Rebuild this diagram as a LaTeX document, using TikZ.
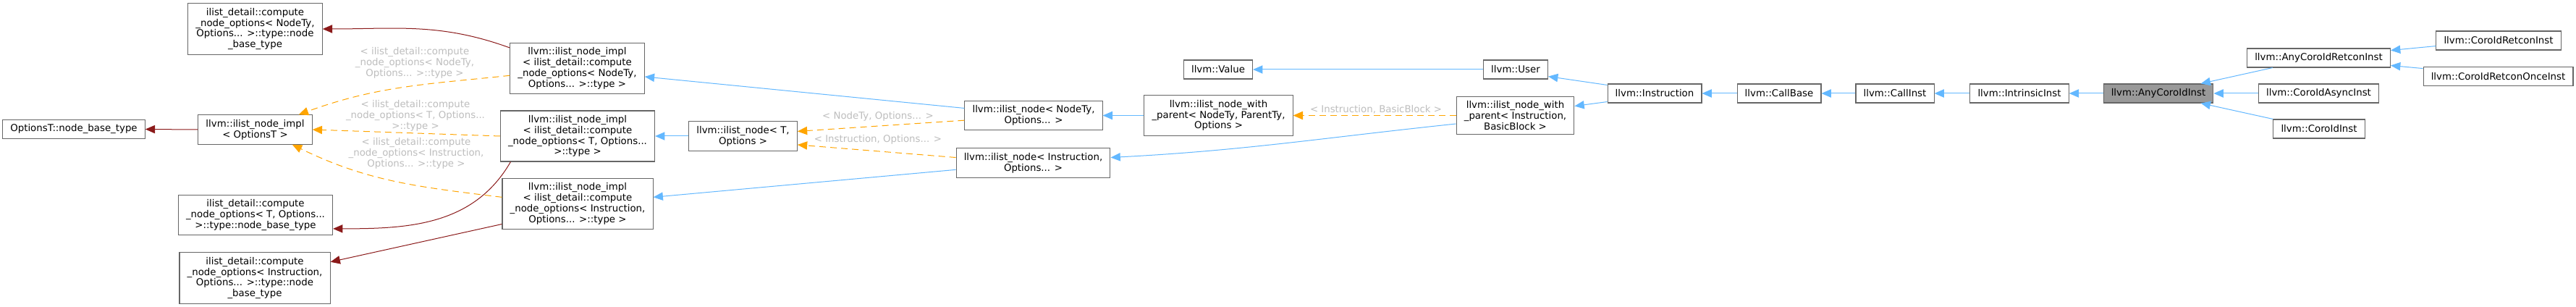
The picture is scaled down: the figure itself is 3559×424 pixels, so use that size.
\documentclass[tikz,border=0pt]{standalone}
\usepackage{fontspec}
\setmainfont{DejaVu Sans}
\usepackage{xcolor}
\definecolor{boxgray}{RGB}{102,102,102}
\definecolor{curgray}{RGB}{153,153,153}
\definecolor{pubblue}{RGB}{99,184,255}
\definecolor{tplorange}{RGB}{255,165,0}
\definecolor{usedred}{RGB}{139,26,26}
\definecolor{lblgray}{RGB}{190,190,190}
\usepackage{tikz}
\usetikzlibrary{arrows.meta}

\begin{document}
\begin{tikzpicture}[
    x=0.75pt, y=-0.75pt,
    cls/.style={rectangle, draw=boxgray, fill=white, line width=0.8pt,
                inner xsep=8pt, inner ysep=4.75pt, minimum height=19.5pt,
                align=center, font=\fontsize{10}{11.1}\selectfont},
    curcls/.style={cls, fill=curgray},
    elbl/.style={text=lblgray, align=center, inner sep=0pt,
                 font=\fontsize{10}{11.1}\selectfont},
    pub/.style={-{Triangle[length=10pt,width=8.5pt]}, pubblue, line width=0.75pt},
    tmpl/.style={-{Triangle[length=10pt,width=8.5pt]}, tplorange, line width=0.75pt,
                 dash pattern=on 6.75pt off 4.5pt},
    used/.style={-{Triangle[length=10pt,width=8.5pt]}, usedred, line width=0.75pt},
  ]
    \path[use as bounding box, fill=white] (0,0) rectangle (3559,424);

    \node[cls] (obt)        at (102,178.5)  {OptionsT::node\_base\_type};
    \node[cls] (implopt)    at (352.5,179)  {llvm::ilist\_node\_impl\\< OptionsT >};
    \node[cls] (cnonodety)  at (352.5,40)   {ilist\_detail::compute\\\_node\_options< NodeTy,\\Options... >::type::node\\\_base\_type};
    \node[cls] (cnot)       at (353,297)    {ilist\_detail::compute\\\_node\_options< T, Options...\\>::type::node\_base\_type};
    \node[cls] (cnoinst)    at (352,384)    {ilist\_detail::compute\\\_node\_options< Instruction,\\Options... >::type::node\\\_base\_type};
    \node[cls] (implnodety) at (797.5,94.5) {llvm::ilist\_node\_impl\\< ilist\_detail::compute\\\_node\_options< NodeTy,\\Options... >::type >};
    \node[cls] (implt)      at (798,188)    {llvm::ilist\_node\_impl\\< ilist\_detail::compute\\\_node\_options< T, Options...\\>::type >};
    \node[cls] (implinst)   at (798,281.5)  {llvm::ilist\_node\_impl\\< ilist\_detail::compute\\\_node\_options< Instruction,\\Options... >::type >};
    \node[cls] (nodet)      at (1026.5,188) {llvm::ilist\_node< T,\\Options >};
    \node[cls] (nodenodety) at (1428,159.5) {llvm::ilist\_node< NodeTy,\\Options... >};
    \node[cls] (nodeinst)   at (1427.5,225) {llvm::ilist\_node< Instruction,\\Options... >};
    \node[cls] (value)      at (1683,96)    {llvm::Value};
    \node[cls] (inwpnodety) at (1683.5,159.5) {llvm::ilist\_node\_with\\\_parent< NodeTy, ParentTy,\\Options >};
    \node[cls] (user)       at (2094,96)    {llvm::User};
    \node[cls] (inwpinst)   at (2093.5,159.5) {llvm::ilist\_node\_with\\\_parent< Instruction,\\BasicBlock >};
    \node[cls] (instr)      at (2286,129)   {llvm::Instruction};
    \node[cls] (callbase)   at (2458,129)   {llvm::CallBase};
    \node[cls] (callinst)   at (2618,129)   {llvm::CallInst};
    \node[cls] (intrinsic)  at (2790,129)   {llvm::IntrinsicInst};
    \node[curcls] (anycoroid) at (2982,129) {llvm::AnyCoroIdInst};
    \node[cls] (anyretcon)  at (3203.5,80)  {llvm::AnyCoroIdRetconInst};
    \node[cls] (asyncinst)  at (3203.5,129) {llvm::CoroIdAsyncInst};
    \node[cls] (coroidinst) at (3204,178)   {llvm::CoroIdInst};
    \node[cls] (retcon)     at (3452,56)    {llvm::CoroIdRetconInst};
    \node[cls] (retcononce) at (3451.5,105.5) {llvm::CoroIdRetconOnceInst};

    \node[elbl] (lblnodety) at (573,87)   {< ilist\_detail::compute\\\_node\_options< NodeTy,\\Options... >::type >};
    \node[elbl] (lblt)      at (574,160)  {< ilist\_detail::compute\\\_node\_options< T, Options...\\>::type >};
    \node[elbl] (lblinst)   at (575,212)  {< ilist\_detail::compute\\\_node\_options< Instruction,\\Options... >::type >};
    \node[elbl] (lblnto)    at (1213,161) {< NodeTy, Options... >};
    \node[elbl] (lblito)    at (1213,193) {< Instruction, Options... >};
    \node[elbl] (lblibb)    at (1901,151) {< Instruction, BasicBlock >};

    \draw[used] (implopt.west) -- (obt.east);
    \draw[used] (implnodety.163) to[out=160,in=0] (cnonodety.east);
    \draw[used] (implt.201) to[out=240,in=0] (cnot.-10);
    \draw[used] (implinst.195) -- (cnoinst.12);

    \draw[tmpl] (implnodety.186) to[out=186,in=20] (implopt.19);
    \draw[tmpl] (implt.west) -- (implopt.east);
    \draw[tmpl] (implinst.175) to[out=173,in=-26] (implopt.-22);

    \draw[pub] (nodenodety.174) -- (implnodety.-7);
    \draw[pub] (nodet.west) -- (implt.east);
    \draw[pub] (nodeinst.185) -- (implinst.5);
    \draw[tmpl] (nodenodety.184) -- (nodet.5);
    \draw[tmpl] (nodeinst.176) -- (nodet.-9);

    \draw[pub] (inwpnodety.west) -- (nodenodety.east);
    \draw[tmpl] (inwpinst.west) -- (inwpnodety.east);
    \draw[pub] (inwpinst.188) to[out=186,in=3] (nodeinst.4);

    \draw[pub] (user.west) -- (value.east);
    \draw[pub] (instr.170) -- (user.-12);
    \draw[pub] (instr.190) -- (inwpinst.9);
    \draw[pub] (callbase.west) -- (instr.east);
    \draw[pub] (callinst.west) -- (callbase.east);
    \draw[pub] (intrinsic.west) -- (callinst.east);
    \draw[pub] (anycoroid.west) -- (intrinsic.east);
    \draw[pub] (anyretcon.192) -- (anycoroid.13);
    \draw[pub] (asyncinst.west) -- (anycoroid.east);
    \draw[pub] (coroidinst.168) -- (anycoroid.-13);
    \draw[pub] (retcon.185) -- (anyretcon.6);
    \draw[pub] (retcononce.174) -- (anyretcon.-6);
  \end{tikzpicture}
\end{document}
